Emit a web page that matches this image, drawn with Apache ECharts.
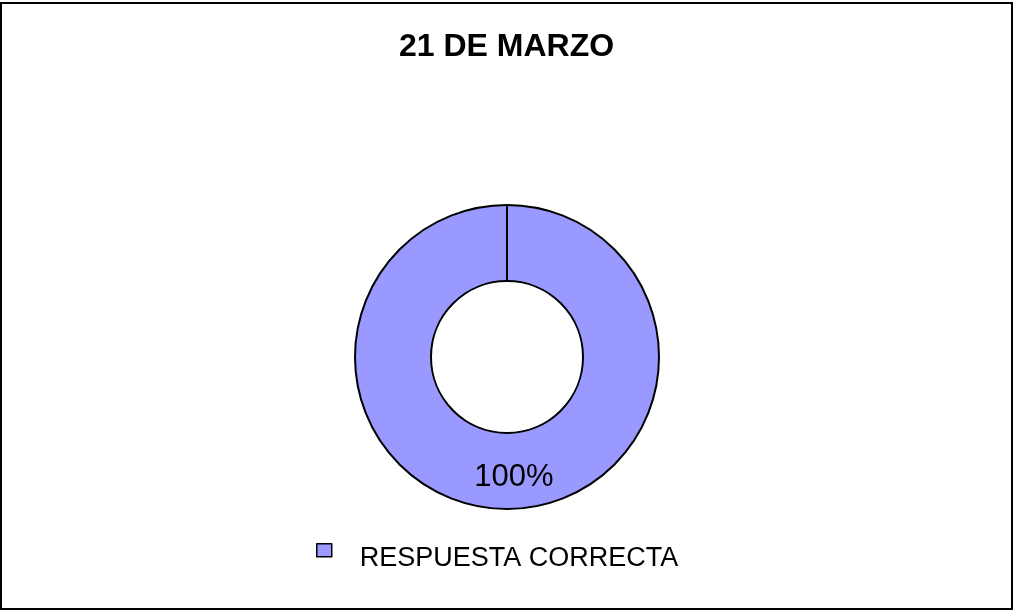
<!DOCTYPE html>
<html>
<head>
<meta charset="utf-8">
<script src="https://cdn.jsdelivr.net/npm/echarts@6/dist/echarts.min.js"></script>
<style>
  html, body { margin: 0; padding: 0; background: #fff; }
  #chart { width: 1013px; height: 611px; }
</style>
</head>
<body>
<div id="chart"></div>
<script>
// datos
var categorias = ['RESPUESTA CORRECTA'];
var valores = [100];
var titulo = '21 DE MARZO';

var centro = [507, 357];
var radioInt = 76, radioExt = 152;

var chart = echarts.init(document.getElementById('chart'));

var option = {
  backgroundColor: '#ffffff',
  animation: false,
  title: {
    text: titulo,
    left: 'center',
    top: 26,
    textStyle: { fontFamily: 'Liberation Sans, Arial', fontWeight: 'bold', fontSize: 32, color: '#000' }
  },
  legend: {
    data: categorias,
    left: 311,
    top: 538,
    itemWidth: 15,
    itemHeight: 29,
    // cuadrito arriba, el texto queda un poco más abajo como en el original
    icon: 'path://M0,0L15,0L15,13L0,13Z M0,29',
    itemStyle: { borderColor: '#000', borderWidth: 1.5 },
    textStyle: { fontFamily: 'Liberation Sans, Arial', fontSize: 27, color: '#000', padding: [0, 0, 0, 23] }
  },
  graphic: [
    { type: 'rect', shape: { x: 1, y: 3, width: 1011, height: 606 }, style: { fill: null, stroke: '#000', lineWidth: 2 }, z: 10 },
    // borde radial del anillo (inicio del sector)
    { type: 'line', shape: { x1: centro[0], y1: centro[1] - radioInt, x2: centro[0], y2: centro[1] - radioExt }, style: { stroke: '#000', lineWidth: 2 }, z: 10 }
  ],
  series: [{
    type: 'pie',
    center: centro,
    radius: [radioInt, radioExt],
    startAngle: 90,
    clockwise: true,
    silent: true,
    itemStyle: { color: '#9999FF', borderColor: '#000', borderWidth: 2 },
    label: {
      show: true,
      position: 'inside',
      formatter: '{d}%',
      fontFamily: 'Liberation Sans, Arial',
      fontSize: 31,
      color: '#000',
      offset: [7, 3]
    },
    labelLine: { show: false },
    data: categorias.map(function (c, i) { return { name: c, value: valores[i] }; })
  }]
};

chart.setOption(option);
</script>
</body>
</html>
